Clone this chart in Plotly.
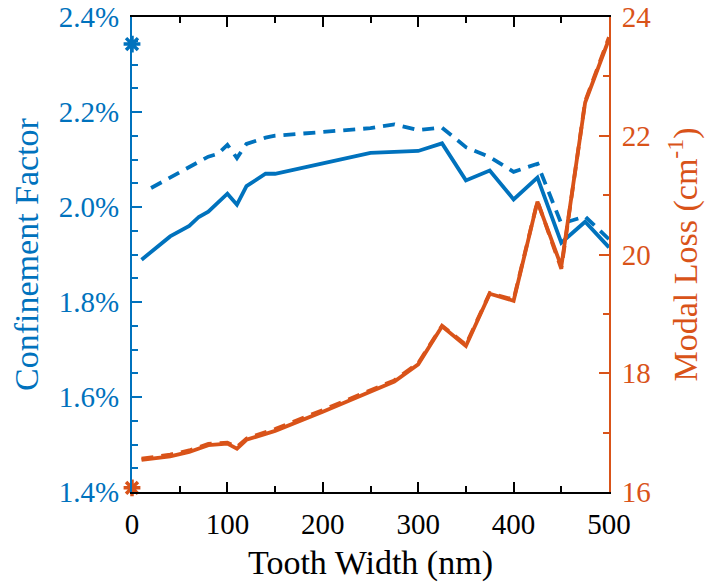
import plotly.graph_objects as go

# Blue: confinement factor (%)
cf_x_solid = [10, 40, 60, 70, 80, 100, 110, 120, 140, 150, 200, 250, 300, 325, 350, 375, 400, 425, 450, 475, 500]
cf_solid = [1.889, 1.938, 1.960, 1.979, 1.990, 2.028, 2.005, 2.044, 2.070, 2.070, 2.092, 2.114, 2.118, 2.134,
            2.056, 2.077, 2.016, 2.062, 1.925, 1.969, 1.915]
cf_x_dash = [20, 40, 60, 80, 90, 100, 110, 120, 140, 150, 200, 250, 275, 300, 325, 350, 375, 400, 425, 450, 475, 500]
cf_dash = [2.040, 2.062, 2.085, 2.106, 2.112, 2.131, 2.103, 2.133, 2.146, 2.150, 2.158, 2.166, 2.174, 2.162,
           2.167, 2.126, 2.105, 2.074, 2.091, 1.965, 1.980, 1.932]

# Orange: modal loss (cm^-1)
ml_x = [10, 40, 60, 80, 100, 110, 120, 140, 150, 200, 250, 275, 300, 325, 350, 375, 400, 425, 450, 475, 500]
ml_solid = [16.54, 16.60, 16.675, 16.79, 16.815, 16.73, 16.88, 16.98, 17.03, 17.35, 17.70, 17.86, 18.15,
            18.79, 18.46, 19.34, 19.22, 20.89, 19.80, 22.56, 23.63]
ml_dash = [16.56, 16.63, 16.70, 16.81, 16.83, 16.76, 16.90, 17.01, 17.06, 17.38, 17.72, 17.88, 18.17,
           18.80, 18.48, 19.35, 19.24, 20.90, 19.76, 22.58, 23.66]

# Reference markers at x = 0
ref_x = [0]
ref_cf = [2.343]
ref_ml = [16.07]

# Tick labels
x_ticks = [0, 100, 200, 300, 400, 500]
cf_ticks = [1.4, 1.6, 1.8, 2.0, 2.2, 2.4]
cf_tick_text = ["1.4%", "1.6%", "1.8%", "2.0%", "2.2%", "2.4%"]
ml_ticks = [16, 18, 20, 22, 24]
ml_tick_text = ["16", "18", "20", "22", "24"]

BLUE = "#0072BD"
ORANGE = "#D95319"
FONT = "Liberation Serif"
DASH = "12px,8px"
TICK_SIZE = 29
TITLE_SIZE = 34

fig = go.Figure()
fig.add_trace(go.Scatter(x=cf_x_solid, y=cf_solid, mode="lines",
                         line=dict(color=BLUE, width=3.8), yaxis="y"))
fig.add_trace(go.Scatter(x=cf_x_dash, y=cf_dash, mode="lines",
                         line=dict(color=BLUE, width=3.8, dash=DASH), yaxis="y"))
fig.add_trace(go.Scatter(x=ml_x, y=ml_dash, mode="lines",
                         line=dict(color=ORANGE, width=3.8, dash=DASH), yaxis="y2"))
fig.add_trace(go.Scatter(x=ml_x, y=ml_solid, mode="lines",
                         line=dict(color=ORANGE, width=3.8), yaxis="y2"))
fig.add_trace(go.Scatter(x=ref_x, y=ref_cf, mode="markers", cliponaxis=False,
                         marker=dict(symbol="asterisk", size=14, color=BLUE,
                                     line=dict(color=BLUE, width=3.5)), yaxis="y"))
fig.add_trace(go.Scatter(x=ref_x, y=ref_ml, mode="markers", cliponaxis=False,
                         marker=dict(symbol="asterisk", size=14, color=ORANGE,
                                     line=dict(color=ORANGE, width=3.5)), yaxis="y2"))

fig.update_layout(
    width=706, height=582,
    margin=dict(l=132, r=97, t=17, b=90),
    paper_bgcolor="white", plot_bgcolor="white",
    showlegend=False,
    font=dict(family=FONT, size=TICK_SIZE, color="black"),
    xaxis=dict(
        range=[0, 500], tickmode="array", tickvals=x_ticks,
        automargin=False,
        showgrid=False, zeroline=False,
        showline=True, linecolor="black", linewidth=2, mirror="ticks",
        ticks="inside", ticklen=10, tickwidth=2, tickcolor="black",
        minor=dict(dtick=50, tick0=0, ticks="inside", ticklen=6, tickwidth=2, tickcolor="black"),
        tickfont=dict(family=FONT, size=TICK_SIZE, color="black"),
        ticklabelstandoff=5,
        title=dict(text="Tooth Width (nm)", font=dict(family=FONT, size=TITLE_SIZE, color="black"), standoff=12),
    ),
    yaxis=dict(
        range=[1.4, 2.4], tickmode="array", tickvals=cf_ticks, ticktext=cf_tick_text,
        automargin=False,
        showgrid=False, zeroline=False,
        showline=True, linecolor=BLUE, linewidth=2,
        ticks="inside", ticklen=10, tickwidth=2, tickcolor=BLUE,
        minor=dict(dtick=0.05, tick0=1.4, ticks="inside", ticklen=6, tickwidth=2, tickcolor=BLUE),
        tickfont=dict(family=FONT, size=TICK_SIZE, color=BLUE),
        ticklabelstandoff=5,
        ticklabeloverflow="allow",
        title=dict(text="Confinement Factor", font=dict(family=FONT, size=TITLE_SIZE, color=BLUE), standoff=10),
    ),
    yaxis2=dict(
        range=[16, 24], tickmode="array", tickvals=ml_ticks, ticktext=ml_tick_text,
        automargin=False,
        overlaying="y", side="right",
        showgrid=False, zeroline=False,
        showline=True, linecolor=ORANGE, linewidth=2,
        ticks="inside", ticklen=10, tickwidth=2, tickcolor=ORANGE,
        minor=dict(dtick=1, tick0=16, ticks="inside", ticklen=6, tickwidth=2, tickcolor=ORANGE),
        tickfont=dict(family=FONT, size=TICK_SIZE, color=ORANGE),
        ticklabelstandoff=5,
        ticklabeloverflow="allow",
        title=dict(text="Modal Loss (cm<sup>-1</sup>)", font=dict(family=FONT, size=TITLE_SIZE, color=ORANGE), standoff=23),
    ),
)

fig.write_html("out.html")
